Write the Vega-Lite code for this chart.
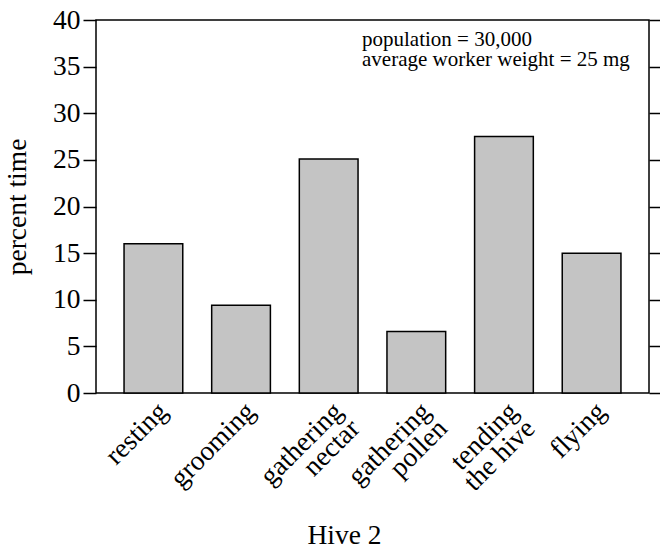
{
  "$schema": "https://vega.github.io/schema/vega-lite/v6.json",
  "width": 553,
  "height": 373,
  "autosize": {"type": "none"},
  "padding": {"left": 96, "top": 20, "right": 11, "bottom": 155},
  "config": {
    "font": "Liberation Serif",
    "view": {"stroke": "black", "strokeWidth": 1.5},
    "axis": {
      "labelFont": "Liberation Serif",
      "titleFont": "Liberation Serif",
      "labelColor": "black",
      "titleColor": "black",
      "tickColor": "black",
      "labelFontSize": 27.5,
      "titleFontSize": 27.5,
      "titleFontWeight": "normal",
      "grid": false,
      "domain": false
    }
  },
  "title": {
    "text": ["population = 30,000", "average worker weight = 25 mg"],
    "anchor": "start",
    "frame": "group",
    "align": "left",
    "baseline": "alphabetic",
    "dx": 266,
    "offset": -81,
    "fontSize": 21,
    "lineHeight": 20,
    "fontWeight": "normal",
    "color": "black"
  },
  "data": {
    "values": [
      {"activity": "resting", "percent": 16.0},
      {"activity": "grooming", "percent": 9.4},
      {"activity": "gathering nectar", "percent": 25.1},
      {"activity": "gathering pollen", "percent": 6.6},
      {"activity": "tending the hive", "percent": 27.5},
      {"activity": "flying", "percent": 15.0}
    ]
  },
  "layer": [
    {
      "mark": {"type": "bar", "fill": "#c4c4c4", "stroke": "black", "strokeWidth": 1.5},
      "encoding": {
        "x": {
          "field": "activity",
          "type": "nominal",
          "sort": null,
          "scale": {"paddingInner": 0.33, "paddingOuter": 0.32},
          "axis": {
            "orient": "bottom",
            "ticks": false,
            "labelAngle": -45,
            "labelPadding": 4,
            "labelLineHeight": 24,
            "labelExpr": "datum.value == 'gathering nectar' ? ['gathering', 'nectar'] : datum.value == 'gathering pollen' ? ['gathering', 'pollen'] : datum.value == 'tending the hive' ? ['tending', 'the hive'] : datum.value",
            "title": "Hive 2",
            "titleX": 248,
            "titleY": 150,
            "titleAlign": "center",
            "titleBaseline": "alphabetic"
          }
        },
        "y": {
          "field": "percent",
          "type": "quantitative",
          "scale": {"domain": [0, 40], "nice": false},
          "axis": {
            "orient": "left",
            "values": [0, 5, 10, 15, 20, 25, 30, 35, 40],
            "tickSize": 13,
            "tickWidth": 1.5,
            "labelPadding": 3,
            "title": "percent time",
            "titlePadding": 21
          }
        }
      }
    },
    {
      "mark": {"type": "bar", "opacity": 0},
      "encoding": {
        "x": {"field": "activity", "type": "nominal", "sort": null},
        "y": {
          "field": "percent",
          "type": "quantitative",
          "axis": {
            "orient": "right",
            "values": [0, 5, 10, 15, 20, 25, 30, 35, 40],
            "tickSize": 13,
            "tickWidth": 1.5,
            "labels": false,
            "title": null
          }
        }
      }
    }
  ],
  "resolve": {"axis": {"y": "independent"}}
}
